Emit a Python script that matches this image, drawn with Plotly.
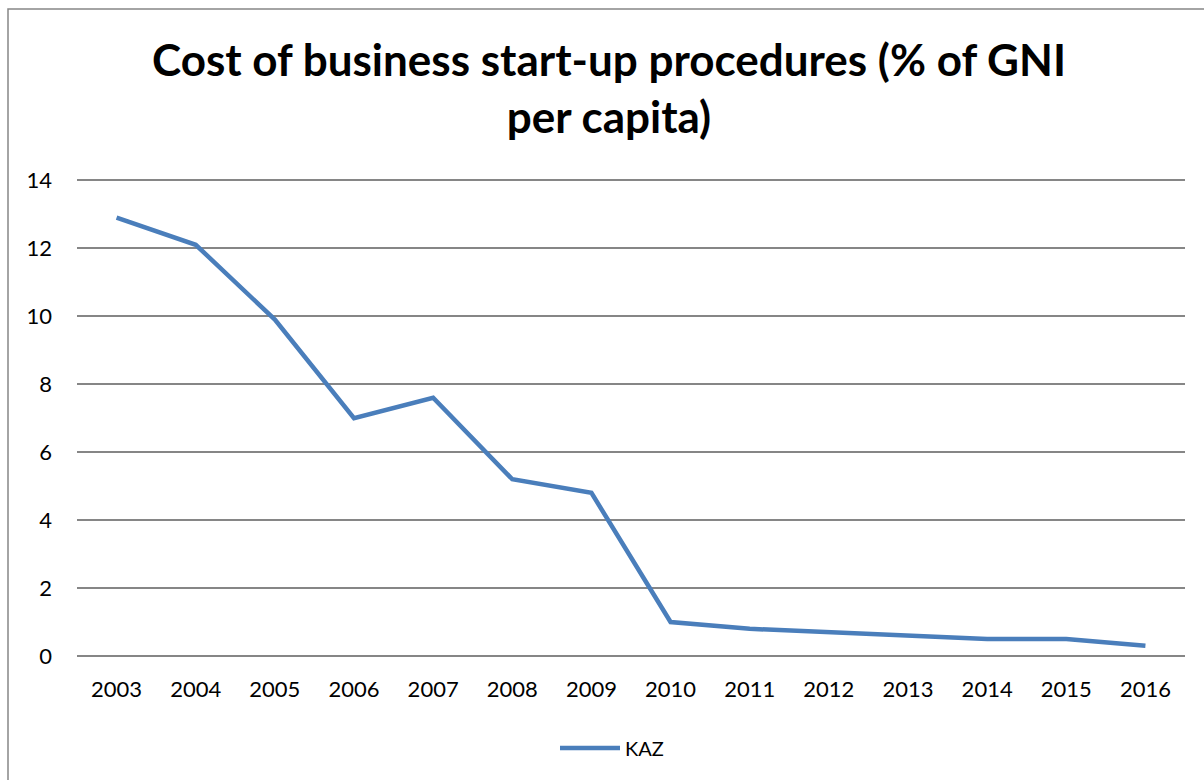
import plotly.graph_objects as go

years = ["2003", "2004", "2005", "2006", "2007", "2008", "2009",
         "2010", "2011", "2012", "2013", "2014", "2015", "2016"]
kaz = [12.9, 12.1, 9.9, 7.0, 7.6, 5.2, 4.8, 1.0, 0.8, 0.7, 0.6, 0.5, 0.5, 0.3]
y_ticks = [0, 2, 4, 6, 8, 10, 12, 14]

W, H = 1204, 780
ml, mr, mt, mb = 77, 19, 170, 124
pw, ph = W - ml - mr, H - mt - mb

fig = go.Figure()
fig.add_trace(go.Scatter(
    x=years, y=kaz, mode="lines", name="KAZ",
    line=dict(color="#4A7EBB", width=4.5),
))

# chart-area border (extends past the right and bottom edges)
fig.add_shape(
    type="rect", xref="paper", yref="paper",
    x0=(8 - ml) / pw, x1=(W + 20 - ml) / pw,
    y0=(mt + ph - (H + 20)) / ph, y1=(mt + ph - 9) / ph,
    line=dict(color="#868686", width=1.5), fillcolor="rgba(0,0,0,0)",
    layer="below",
)

fig.update_layout(
    width=W, height=H,
    margin=dict(l=ml, r=mr, t=mt, b=mb),
    paper_bgcolor="white", plot_bgcolor="white",
    font=dict(family="Lato", size=22, color="#000000"),
    title=dict(
        text="<b>Cost of business start-up procedures (% of GNI<br>per capita)</b>",
        x=(609 / W), xanchor="center", y=1 - 76 / H, yanchor="top",
        font=dict(family="Lato", size=44, color="#000000"),
    ),
    showlegend=True,
    legend=dict(
        orientation="h", x=(612 - ml) / pw, xanchor="center",
        y=(mt + ph - 748) / ph, yanchor="middle",
        font=dict(family="Lato", size=20), itemwidth=60,
    ),
    xaxis=dict(
        type="category", showgrid=False, zeroline=False, showline=False,
        ticks="", ticklabelstandoff=18, range=[-0.5, len(years) - 0.5],
        tickfont=dict(size=22),
    ),
    yaxis=dict(
        range=[0, 14.3], tickvals=y_ticks, showgrid=True,
        gridcolor="#868686", gridwidth=1.5, zeroline=True,
        zerolinecolor="#868686", zerolinewidth=1.5, showline=False,
        ticks="", ticklabelstandoff=24, tickfont=dict(size=22),
    ),
)

fig.write_html("out.html")
